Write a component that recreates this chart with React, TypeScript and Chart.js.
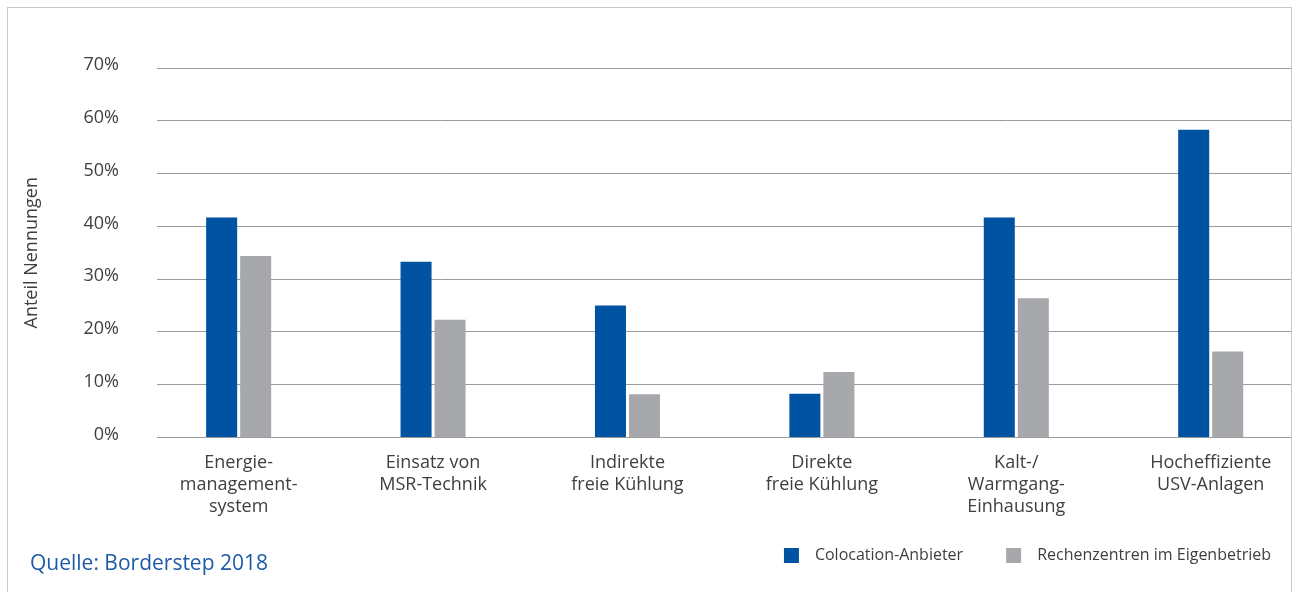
import React, { useEffect, useRef } from "react";
import { Chart, registerables } from "chart.js";

Chart.register(...registerables);

const categories: string[][] = [
  ["Energie-", "management-", "system"],
  ["Einsatz von", "MSR-Technik"],
  ["Indirekte", "freie Kühlung"],
  ["Direkte", "freie Kühlung"],
  ["Kalt-/", "Warmgang-", "Einhausung"],
  ["Hocheffiziente", "USV-Anlagen"],
];
const seriesNames = ["Colocation-Anbieter", "Rechenzentren im Eigenbetrieb"];
const colocation = [41.7, 33.3, 25.0, 8.3, 41.7, 58.3];
const eigenbetrieb = [34.4, 22.3, 8.2, 12.4, 26.4, 16.3];
const yTickValues = [0, 10, 20, 30, 40, 50, 60, 70];
const yTitle = "Anteil Nennungen";
const sourceText = "Quelle: Borderstep 2018";

const BLUE = "#0053a0";
const GRAY = "#a7a8ab";
const TEXT = "#3f3f3f";
const FONT = "'Open Sans', 'DejaVu Sans', sans-serif";

function legendSwatch(color: string): HTMLCanvasElement {
  const c = document.createElement("canvas");
  c.width = 46;
  c.height = 15;
  const ctx = c.getContext("2d")!;
  ctx.fillStyle = color;
  ctx.fillRect(23, 0, 15, 15);
  return c;
}

export default function App() {
  const ref = useRef<HTMLCanvasElement>(null);

  useEffect(() => {
    if (!ref.current) return;
    Chart.defaults.font.family = FONT;
    const swatches = [legendSwatch(BLUE), legendSwatch(GRAY)];
    const chart = new Chart(ref.current, {
      type: "bar",
      data: {
        datasets: [
          {
            label: seriesNames[0],
            data: colocation.map((v, i) => ({ x: i, y: v })),
            backgroundColor: BLUE,
            categoryPercentage: 0.35,
            barPercentage: 0.912,
          },
          {
            label: seriesNames[1],
            data: eigenbetrieb.map((v, i) => ({ x: i, y: v })),
            backgroundColor: GRAY,
            categoryPercentage: 0.35,
            barPercentage: 0.912,
          },
        ],
      },
      options: {
        responsive: false,
        animation: false,
        devicePixelRatio: 1,
        layout: { padding: { left: 0, right: 2, top: 68, bottom: 18.75 } },
        scales: {
          x: {
            type: "linear",
            bounds: "data",
            offset: false,
            min: -0.42,
            max: 5.413,
            grid: { display: false, drawTicks: false, offset: false },
            border: { display: false },
            afterBuildTicks: (s: any) => {
              s.ticks = categories.map((_, i) => ({ value: i }));
            },
            afterFit: (s: any) => {
              s.height = 89.7;
            },
            ticks: {
              autoSkip: false,
              maxRotation: 0,
              minRotation: 0,
              padding: 15,
              color: TEXT,
              font: { size: 18, lineHeight: 1.2 },
              callback: (v: any) => categories[v as number] ?? "",
            },
          },
          y: {
            min: 0,
            max: 70,
            afterBuildTicks: (s: any) => {
              s.ticks = yTickValues.map((v) => ({ value: v }));
            },
            afterFit: (s: any) => {
              s.width = 157;
            },
            grid: { color: "#9c9c9c", lineWidth: 1, drawTicks: false },
            border: { display: false },
            ticks: {
              padding: 38,
              labelOffset: -3,
              color: TEXT,
              font: { size: 18 },
              callback: (v: any) => v + "%",
            },
            title: {
              display: true,
              text: yTitle,
              color: TEXT,
              font: { size: 18, lineHeight: 1.2 },
              padding: { top: 21, bottom: 0 },
            },
          },
        },
        plugins: {
          legend: {
            position: "bottom",
            align: "end",
            labels: {
              usePointStyle: true,
              pointStyleWidth: 46,
              boxHeight: 15,
              padding: 20,
              color: TEXT,
              font: { size: 16 },
              generateLabels: (c: any) => {
                const items = (Chart.defaults.plugins.legend.labels as any).generateLabels(c);
                items.forEach((it: any, i: number) => {
                  it.pointStyle = swatches[i];
                });
                return items;
              },
            },
          },
          tooltip: { enabled: false },
        },
      } as any,
    });
    return () => chart.destroy();
  }, []);

  return (
    <div>
      <div
        style={{
          position: "absolute",
          left: 7,
          top: 7,
          width: 1283,
          height: 584,
          borderTop: "1px solid #c8c8c8",
          borderLeft: "1px solid #c8c8c8",
          borderRight: "1px solid #c8c8c8",
          borderBottom: "none",
        }}
      />
      <canvas
        ref={ref}
        width={1293}
        height={592}
        style={{ position: "absolute", left: 0, top: 0, width: 1293, height: 592 }}
      />
      <div
        style={{
          position: "absolute",
          left: 30,
          top: 548,
          fontFamily: FONT,
          fontSize: 21,
          lineHeight: "28px",
          color: "#1e5ba6",
          whiteSpace: "nowrap",
        }}
      >
        {sourceText}
      </div>
    </div>
  );
}
